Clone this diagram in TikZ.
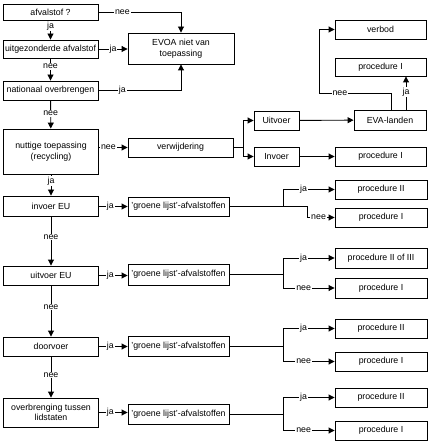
\documentclass[tikz,border=0pt]{standalone}
\usepackage{fontspec}
\setmainfont{Liberation Sans}
\usetikzlibrary{arrows.meta}
\begin{document}
\begin{tikzpicture}[x=1pt,y=-1pt, line width=0.9pt,
 box/.style={draw, line width=0.9pt, minimum height=19pt, inner sep=0pt, align=center, font=\fontsize{8.8}{10.5}\selectfont},
 lbox/.style={box, minimum width=95pt},
 gbox/.style={box, minimum width=101pt},
 pbox/.style={box, minimum width=92pt},
 arr/.style={-{Triangle[length=6pt,width=6pt]}},
 lab/.style={fill=white, inner sep=1pt, font=\fontsize{8.8}{10.5}\selectfont},
]
\useasboundingbox (0,0) rectangle (439,443);
\fill[white] (0,0) rectangle (439,443);

% left column
\node[lbox, minimum height=16pt] (afv) at (50.5,12) {afvalstof ?};
\node[lbox, minimum height=18pt] (uitg) at (50.5,49) {uitgezonderde afvalstof};
\node[lbox] (nat) at (50.5,90.5) {nationaal overbrengen};
\node[lbox, minimum height=45pt] (nut) at (51,151.5) {nuttige toepassing\\(recycling)};
\node[lbox, minimum height=20pt] (invEU) at (51,206) {invoer EU};
\node[lbox] (uitvEU) at (51,275.5) {uitvoer EU};
\node[lbox] (door) at (51,346.5) {doorvoer};
\node[lbox, minimum height=29pt] (over) at (51,412.5) {overbrenging tussen\\lidstaten};

% middle
\node[box, minimum width=106pt, minimum height=31pt] (evoa) at (181,48.5) {EVOA niet van\\toepassing};
\node[box, minimum width=105pt] (verw) at (180.5,147.5) {verwijdering};
\node[gbox] (g1) at (178.5,206.5) {'groene lijst'-afvalstoffen};
\node[gbox, minimum height=21pt] (g2) at (178.5,274.5) {'groene lijst'-afvalstoffen};
\node[gbox, minimum height=20pt] (g3) at (178.5,346) {'groene lijst'-afvalstoffen};
\node[gbox, minimum height=20pt] (g4) at (178.5,414) {'groene lijst'-afvalstoffen};

% upper right
\node[box, minimum width=45pt] (uitv) at (276.5,120.5) {Uitvoer};
\node[box, minimum width=45pt] (inv) at (276.5,156.5) {Invoer};
\node[box, minimum width=72pt, minimum height=20pt] (eva) at (390,120) {EVA-landen};
\node[pbox, minimum width=91pt] (verbod) at (380.5,29.5) {verbod};
\node[pbox, minimum width=91pt, minimum height=18pt] (pI0) at (380.5,67) {procedure I};
\node[pbox, minimum width=91pt] (pIinv) at (380.5,156.5) {procedure I};

% right procedures
\node[pbox] (p1a) at (381,189.5) {procedure II};
\node[pbox] (p1b) at (381,217.5) {procedure I};
\node[pbox, minimum height=20pt] (p2a) at (381,258) {procedure II of III};
\node[pbox, minimum height=20pt] (p2b) at (381,288) {procedure I};
\node[pbox] (p3a) at (381,328.5) {procedure II};
\node[pbox] (p3b) at (381,361.5) {procedure I};
\node[pbox] (p4a) at (381,397.5) {procedure II};
\node[pbox] (p4b) at (381,430.5) {procedure I};

% left vertical chain
\draw[arr] (afv) -- node[lab,pos=0.3]{ja} (uitg);
\draw[arr] (uitg) -- node[lab,pos=0.35]{nee} (nat);
\draw[arr] (nat) -- node[lab,pos=0.45]{nee} (nut);
\draw[arr] (nut) -- node[lab,pos=0.32]{ja} (invEU);
\draw[arr] (invEU) -- node[lab,pos=0.42]{nee} (uitvEU);
\draw[arr] (uitvEU) -- node[lab,pos=0.42]{nee} (door);
\draw[arr] (door) -- node[lab,pos=0.45]{nee} (over);

% to EVOA
\draw[arr] (afv.east) -- node[lab,pos=0.29]{nee} (afv.east -| evoa) -- (evoa.north);
\draw[arr] (uitg.east) -- node[lab,pos=0.5]{ja} (evoa.west |- uitg.east);
\draw[arr] (nat.east) -- node[lab,pos=0.29]{ja} (nat.east -| evoa) -- (evoa.south);

% verwijdering branch
\draw[arr] (nut.east |- verw) -- node[lab,pos=0.33]{nee} (verw.west);
\coordinate (vb) at (243,147.5);
\draw (verw.east) -- (vb);
\draw[arr] (vb) |- (uitv.west);
\draw[arr] (vb) |- (inv.west);
\draw[arr] (uitv) -- (eva);
\draw[arr] (inv) -- (pIinv);

% EVA-landen
\coordinate (e1) at (391,93);
\coordinate (e2) at (319,93);
\coordinate (e3) at (406,0);
\draw[arr] (eva.north -| e1) -- (e1) -- node[lab,pos=0.71]{nee} (e2) |- (verbod.west);
\draw[arr] (eva.north -| e3) -- node[lab,pos=0.53]{ja} (pI0.south -| e3);

% left to groene lijst
\draw[arr] (invEU.east |- g1) -- node[lab,pos=0.4]{ja} (g1.west);
\draw[arr] (uitvEU.east) -- node[lab,pos=0.4]{ja} (g2.west |- uitvEU.east);
\draw[arr] (door.east) -- node[lab,pos=0.4]{ja} (g3.west |- door.east);
\draw[arr] (over.east) -- node[lab,pos=0.4]{ja} (g4.west |- over.east);

% groene lijst 1 branch
\coordinate (c1a) at (283,206.5);
\coordinate (c1b) at (307,206.5);
\draw (g1.east) -- (c1b);
\draw[arr] (c1a) |- node[lab,pos=0.7]{ja} (p1a.west);
\draw[arr] (c1b) |- node[lab,pos=0.71]{nee} (p1b.west);

% groene lijst 2-4 branches
\coordinate (c2) at (283,274.5);
\draw (g2.east) -- (c2);
\draw[arr] (c2) |- node[lab,pos=0.7]{ja} (p2a.west);
\draw[arr] (c2) |- node[lab,pos=0.7]{nee} (p2b.west);

\coordinate (c3) at (283,346);
\draw (g3.east) -- (c3);
\draw[arr] (c3) |- node[lab,pos=0.7]{ja} (p3a.west);
\draw[arr] (c3) |- node[lab,pos=0.7]{nee} (p3b.west);

\coordinate (c4) at (283,414);
\draw (g4.east) -- (c4);
\draw[arr] (c4) |- node[lab,pos=0.7]{ja} (p4a.west);
\draw[arr] (c4) |- node[lab,pos=0.7]{nee} (p4b.west);
\end{tikzpicture}
\end{document}
